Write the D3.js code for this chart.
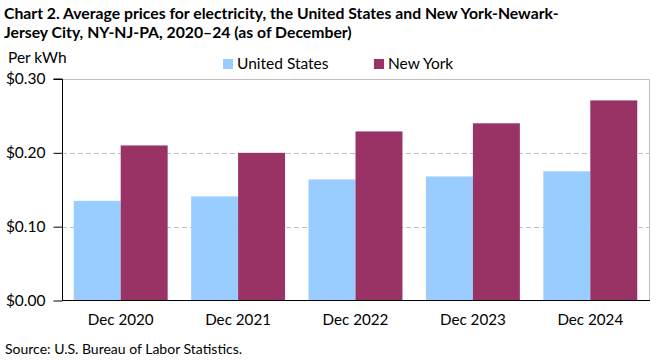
<!DOCTYPE html>
<html>
<head>
<meta charset="utf-8">
<script src="https://cdn.jsdelivr.net/npm/d3@7"></script>
<style>
  html, body { margin: 0; padding: 0; background: #fff; }
  svg { display: block; font-family: Lato, "Open Sans", sans-serif; }
</style>
</head>
<body>
<svg id="chart" width="661" height="360"></svg>
<script>
// ---- data ----
const categories = ["Dec 2020", "Dec 2021", "Dec 2022", "Dec 2023", "Dec 2024"];
const seriesNames = ["United States", "New York"];
const unitedStates = [0.135, 0.141, 0.164, 0.168, 0.175];
const newYork = [0.210, 0.200, 0.229, 0.240, 0.271];
const yTicks = [0, 0.10, 0.20, 0.30];
const titleLines = [
  "Chart 2. Average prices for electricity, the United States and New York-Newark-",
  "Jersey City, NY-NJ-PA, 2020\u201324 (as of December)"
];
const yAxisTitle = "Per kWh";
const sourceText = "Source: U.S. Bureau of Labor Statistics.";

// ---- layout ----
const colors = ["#99CCFF", "#993366"];
const svg = d3.select("#chart");
const plot = { left: 62, right: 649, top: 79, bottom: 300.5 };

const x0 = d3.scaleBand().domain(categories).range([plot.left, plot.right])
  .paddingInner(0.2).paddingOuter(0.1);
const x1 = d3.scaleBand().domain(seriesNames).range([0, x0.bandwidth()]);
const y = d3.scaleLinear().domain([0, 0.30]).range([plot.bottom, plot.top]);

const values = [unitedStates, newYork];
const rows = categories.map((c, i) => ({ cat: c, vals: seriesNames.map((s, j) => ({ s, j, v: values[j][i] })) }));

// gridlines (dashed) for interior ticks
svg.append("g").selectAll("line").data(yTicks.filter(t => t > 0 && t < 0.30)).join("line")
  .attr("x1", plot.left).attr("x2", plot.right)
  .attr("y1", d => Math.round(y(d)) + 0.5).attr("y2", d => Math.round(y(d)) + 0.5)
  .attr("stroke", "#BFBFBF").attr("stroke-width", 1).attr("stroke-dasharray", "5,3");

// plot border top & right (gray)
svg.append("path")
  .attr("d", `M${plot.left},${Math.round(y(0.30)) + 0.5}H${plot.right + 0.5}V${plot.bottom}`)
  .attr("fill", "none").attr("stroke", "#BFBFBF").attr("stroke-width", 1);

// bars
svg.append("g").selectAll("g").data(rows).join("g")
  .attr("transform", d => `translate(${x0(d.cat)},0)`)
  .selectAll("rect").data(d => d.vals).join("rect")
  .attr("x", d => x1(d.s)).attr("width", x1.bandwidth())
  .attr("y", d => y(d.v)).attr("height", d => y(0) - y(d.v))
  .attr("fill", d => colors[d.j]);

// y axis
const yAxis = svg.append("g").attr("transform", `translate(${plot.left + 0.5},0)`)
  .call(d3.axisLeft(y).tickValues(yTicks).tickFormat(d => "$" + d3.format(".2f")(d)).tickSize(9).tickPadding(8));
yAxis.select(".domain").attr("stroke", "#000").attr("d", `M-9,${y(0.30)}H0V${plot.bottom}`);
yAxis.selectAll(".tick line").attr("stroke", "#000");
yAxis.selectAll(".tick text").attr("font-size", 15.5).attr("fill", "#000").attr("font-family", "Lato, sans-serif");

// x axis
const xAxis = svg.append("g").attr("transform", `translate(0,${plot.bottom})`)
  .call(d3.axisBottom(x0).tickSize(0).tickPadding(14));
xAxis.select(".domain").attr("stroke", "#000").attr("d", `M${plot.left},0H${plot.right + 1}`);
xAxis.selectAll(".tick text").attr("font-size", 15.2).attr("fill", "#000").attr("font-family", "Lato, sans-serif");

// title
svg.append("g").selectAll("text").data(titleLines).join("text")
  .attr("x", 4).attr("y", (d, i) => 19 + i * 19)
  .attr("font-size", 15.75).attr("font-weight", "bold").attr("fill", "#000")
  .text(d => d);

// y axis title
svg.append("text").attr("x", 8).attr("y", 63).attr("font-size", 15.5).attr("fill", "#000").text(yAxisTitle);

// legend
const legendX = [223, 374];
const lg = svg.append("g").selectAll("g").data(seriesNames).join("g")
  .attr("transform", (d, i) => `translate(${legendX[i]},59)`);
lg.append("rect").attr("width", 10).attr("height", 10).attr("fill", (d, i) => colors[i]);
lg.append("text").attr("x", 14).attr("y", 10).attr("font-size", 15.5).attr("fill", "#000").text(d => d);

// source
svg.append("text").attr("x", 5).attr("y", 354).attr("font-size", 14).attr("fill", "#000").text(sourceText);
</script>
</body>
</html>
